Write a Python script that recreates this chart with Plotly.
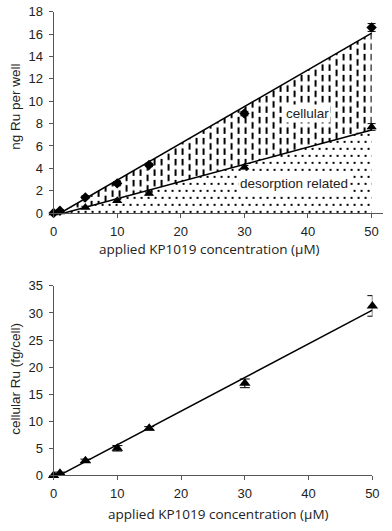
import numpy as np
import plotly.graph_objects as go

# ---------------- data ----------------
conc = [0, 1, 5, 10, 15, 30, 50]

# top panel: ng Ru per well
total_ng = [0, 0.2, 1.4, 2.65, 4.3, 8.9, 16.6]
total_err = [0.05, 0.1, 0.12, 0.15, 0.15, 0.2, 0.35]
desorp_ng = [0, 0.1, 0.5, 1.1, 1.75, 4.1, 7.7]
desorp_err = [0.05, 0.05, 0.1, 0.12, 0.12, 0.15, 0.3]

# bottom panel: cellular Ru fg/cell
cell_fg = [0, 0.4, 2.7, 5.0, 8.7, 17.0, 31.3]
cell_err = [0.2, 0.2, 0.3, 0.5, 0.3, 0.8, 1.9]

top_yticks = [0, 2, 4, 6, 8, 10, 12, 14, 16, 18]
bot_yticks = [0, 5, 10, 15, 20, 25, 30, 35]
xticks = [0, 10, 20, 30, 40, 50]

label_cell = "cellular"
label_desorp = "desorption related"
xtitle = "applied KP1019 concentration (µM)"
ytitle_top = "ng Ru per well"
ytitle_bot = "cellular Ru (fg/cell)"


def trend(x, y, xmax=50):
    """Linear trendline drawn from its zero crossing to xmax."""
    m, b = np.polyfit(x, y, 1)
    x0 = max(0.0, -b / m)
    xs = np.array([x0, xmax])
    return xs, m * xs + b


tx_tot, ty_tot = trend(conc, total_ng)
tx_des, ty_des = trend(conc, desorp_ng)
tx_cel, ty_cel = trend(conc, cell_fg)

AX = "#555555"
TXT = "#222222"
FONT = "Liberation Sans, Arial, sans-serif"

# staggered vertical dashes (tile 21 x 21)
DASH_PATH = ("M2,0h2v6.5h-2z M2,10.5h2v6.5h-2z "
             "M9,5.25h2v6.5h-2z M9,15.75h2v5.25h-2z M9,0h2v1.25h-2z "
             "M16,0h2v6.5h-2z M16,10.5h2v6.5h-2z")
# staggered small dots (tile 14 x 14)
DOT_PATH = ("M3,3h2v2h-2z M10,3h2v2h-2z "
            "M6,10h2v2h-2z M13,10h1v2h-1z M0,10h1v2h-1z")

fig = go.Figure()


def make_pattern(path, size, fallback_shape, fallback_size, fallback_sol):
    try:
        return go.scatter.Fillpattern(path=path, size=size, solidity=1,
                                      fgopacity=1, fgcolor="black",
                                      bgcolor="white")
    except (ValueError, TypeError):
        return go.scatter.Fillpattern(shape=fallback_shape, size=fallback_size,
                                      solidity=fallback_sol, fgcolor="black",
                                      bgcolor="white")


dot_pattern = make_pattern(DOT_PATH, 14, ".", 6.5, 0.14)
dash_pattern = make_pattern(DASH_PATH, 21, "|", 7, 0.3)

# ---- top panel fills ----
fig.add_trace(go.Scatter(
    x=tx_des, y=ty_des, mode="lines", line=dict(width=0),
    fill="tozeroy", fillcolor="white", fillpattern=dot_pattern,
    xaxis="x", yaxis="y", hoverinfo="skip", showlegend=False))
fig.add_trace(go.Scatter(
    x=tx_tot, y=ty_tot, mode="lines", line=dict(width=0),
    fill="tonexty", fillcolor="white", fillpattern=dash_pattern,
    xaxis="x", yaxis="y", hoverinfo="skip", showlegend=False))

# trend lines
fig.add_trace(go.Scatter(x=tx_tot, y=ty_tot, mode="lines",
                         line=dict(color="black", width=1.5),
                         xaxis="x", yaxis="y", showlegend=False))
fig.add_trace(go.Scatter(x=tx_des, y=ty_des, mode="lines",
                         line=dict(color="black", width=1.5),
                         xaxis="x", yaxis="y", showlegend=False))

# markers
fig.add_trace(go.Scatter(
    x=conc, y=total_ng, mode="markers",
    marker=dict(symbol="diamond", size=8, color="black"),
    error_y=dict(type="data", array=total_err, color="black", thickness=1,
                 width=4),
    cliponaxis=False, xaxis="x", yaxis="y", showlegend=False))
fig.add_trace(go.Scatter(
    x=conc, y=desorp_ng, mode="markers",
    marker=dict(symbol="triangle-up", size=9, color="black"),
    error_y=dict(type="data", array=desorp_err, color="black", thickness=1,
                 width=4),
    cliponaxis=False, xaxis="x", yaxis="y", showlegend=False))

# ---- bottom panel ----
fig.add_trace(go.Scatter(x=tx_cel, y=ty_cel, mode="lines",
                         line=dict(color="black", width=1.5),
                         xaxis="x2", yaxis="y2", showlegend=False))
fig.add_trace(go.Scatter(
    x=conc, y=cell_fg, mode="markers",
    marker=dict(symbol="triangle-up", size=10, color="black"),
    error_y=dict(type="data", array=cell_err, color="black", thickness=1,
                 width=5),
    cliponaxis=False, xaxis="x2", yaxis="y2", showlegend=False))

W, H = 392, 531


def px(xp):
    return xp / W


def py(yp):
    return (H - yp) / H


axis_common = dict(showline=True, linecolor=AX, linewidth=1, ticks="outside",
                   ticklen=4, tickcolor=AX, showgrid=False, zeroline=False,
                   tickfont=dict(family=FONT, size=13, color=TXT))

title_font = dict(family="Open Sans", size=13.5, color=TXT)
ytitle_font = dict(family=FONT, size=13.5, color=TXT)

fig.update_layout(
    width=W, height=H, margin=dict(l=0, r=0, t=0, b=0),
    paper_bgcolor="white", plot_bgcolor="white",
    xaxis=dict(domain=[px(51), px(390)], range=[0, 51.8], tickvals=xticks,
               anchor="y", ticklabelstandoff=2, **axis_common),
    yaxis=dict(domain=[py(212), py(5)], range=[0, 18], tickvals=top_yticks,
               anchor="x", ticklabelstandoff=3, **axis_common),
    xaxis2=dict(domain=[px(51), px(379)], range=[0, 50], tickvals=xticks,
                anchor="y2", ticklabelstandoff=2, **axis_common),
    yaxis2=dict(domain=[py(482), py(287)], range=[0, 35], tickvals=bot_yticks,
                anchor="x2", ticklabelstandoff=3, **axis_common),
    annotations=[
        dict(text=label_cell, x=40, y=8.9, xref="x", yref="y",
             showarrow=False, bgcolor="white",
             font=dict(family=FONT, size=13.5, color=TXT)),
        dict(text=label_desorp, x=37.8, y=2.6, xref="x", yref="y",
             showarrow=False, bgcolor="white",
             font=dict(family=FONT, size=13.5, color=TXT)),
        dict(text=xtitle, x=px(211), y=py(249), xref="paper", yref="paper",
             xanchor="center", yanchor="middle",
             showarrow=False, font=title_font),
        dict(text=xtitle, x=px(221), y=py(522), xref="paper", yref="paper",
             xanchor="center", yanchor="middle",
             showarrow=False, font=title_font),
        dict(text=ytitle_top, x=px(11), y=py(103), xref="paper", yref="paper",
             xanchor="center", yanchor="middle",
             textangle=-90, showarrow=False, font=ytitle_font),
        dict(text=ytitle_bot, x=px(11), y=py(383), xref="paper", yref="paper",
             xanchor="center", yanchor="middle",
             textangle=-90, showarrow=False, font=ytitle_font),
    ],
)

fig.write_html("out.html", config={"displayModeBar": False},
               post_script="document.body.style.margin='0';"
                           "document.body.style.overflow='hidden';")
